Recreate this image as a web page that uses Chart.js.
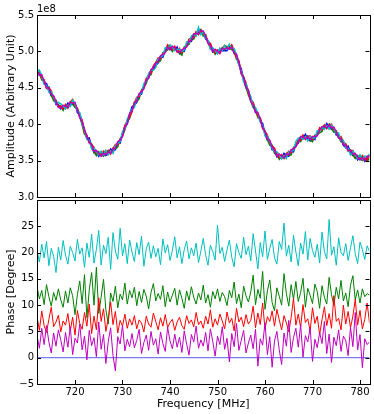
<!DOCTYPE html>
<html>
<head>
<meta charset="utf-8">
<script src="https://cdn.jsdelivr.net/npm/chart.js@4.4.1/dist/chart.umd.min.js"></script>
<style>
    html, body { margin: 0; padding: 0; background: #fff; }
    #wrap { position: relative; width: 374px; height: 414px; }
    #ampCanvas { position: absolute; left: 0; top: 0; }
    #phaseCanvas { position: absolute; left: 0; top: 190px; }
</style>
</head>
<body>
<div id="wrap">
    <canvas id="ampCanvas" width="374" height="206"></canvas>
    <canvas id="phaseCanvas" width="374" height="224"></canvas>
</div>
<script>
// Frequency grid (MHz), 0.5 MHz steps from 712 to 782
const freq = Array.from({ length: 141 }, (_, i) => 712 + i * 0.5);
const xTicks = [720, 730, 740, 750, 760, 770, 780];
const ampTicks = [3.0, 3.5, 4.0, 4.5, 5.0, 5.5];
const phaseTicks = [-5, 0, 5, 10, 15, 20, 25, 30];

// Amplitude (units of 1e8), one array per antenna
const ampBlue = [
    4.74, 4.67, 4.66, 4.56, 4.56, 4.47, 4.39, 4.38, 4.27, 4.27,
    4.21, 4.24, 4.22, 4.29, 4.27, 4.27, 4.29, 4.16, 4.13, 4.04,
    3.91, 3.80, 3.81, 3.69, 3.61, 3.63, 3.56, 3.60, 3.61, 3.57,
    3.59, 3.66, 3.63, 3.65, 3.75, 3.74, 3.87, 3.97, 4.00, 4.13,
    4.24, 4.26, 4.30, 4.41, 4.41, 4.53, 4.61, 4.63, 4.73, 4.75,
    4.81, 4.84, 4.93, 4.92, 5.02, 5.07, 5.02, 5.05, 5.02, 5.06,
    4.97, 5.01, 5.00, 5.10, 5.15, 5.14, 5.22, 5.22, 5.30, 5.26,
    5.27, 5.17, 5.15, 5.09, 4.99, 5.01, 4.97, 5.04, 5.01, 5.01,
    5.01, 5.07, 5.07, 4.97, 4.94, 4.82, 4.76, 4.61, 4.50, 4.46,
    4.35, 4.28, 4.16, 4.14, 4.04, 4.01, 3.87, 3.78, 3.77, 3.65,
    3.65, 3.55, 3.57, 3.53, 3.60, 3.56, 3.56, 3.64, 3.62, 3.73,
    3.74, 3.81, 3.80, 3.86, 3.80, 3.77, 3.82, 3.79, 3.88, 3.93,
    3.95, 3.94, 4.01, 3.96, 3.93, 3.95, 3.85, 3.85, 3.81, 3.71,
    3.68, 3.70, 3.61, 3.57, 3.59, 3.51, 3.55, 3.55, 3.49, 3.54,
    3.56
];
const ampGreen = [
    4.69, 4.71, 4.61, 4.60, 4.51, 4.51, 4.40, 4.32, 4.33, 4.25,
    4.25, 4.19, 4.26, 4.24, 4.31, 4.28, 4.23, 4.22, 4.11, 3.99,
    3.86, 3.84, 3.76, 3.73, 3.62, 3.57, 3.62, 3.58, 3.56, 3.61,
    3.63, 3.61, 3.67, 3.66, 3.69, 3.80, 3.85, 3.92, 4.04, 4.08,
    4.19, 4.30, 4.31, 4.35, 4.47, 4.51, 4.56, 4.67, 4.68, 4.79,
    4.85, 4.85, 4.87, 4.98, 5.00, 5.02, 5.06, 5.00, 5.06, 5.01,
    4.98, 4.95, 5.06, 5.08, 5.10, 5.18, 5.17, 5.26, 5.25, 5.30,
    5.21, 5.23, 5.13, 5.04, 5.03, 4.96, 5.01, 4.99, 5.05, 5.02,
    5.07, 5.05, 5.02, 5.01, 4.89, 4.86, 4.71, 4.65, 4.51, 4.40,
    4.33, 4.23, 4.20, 4.09, 4.08, 3.96, 3.91, 3.79, 3.71, 3.71,
    3.60, 3.59, 3.52, 3.57, 3.55, 3.60, 3.57, 3.58, 3.68, 3.71,
    3.78, 3.76, 3.84, 3.81, 3.84, 3.78, 3.76, 3.85, 3.86, 3.88,
    3.90, 3.98, 3.96, 4.00, 3.94, 3.89, 3.91, 3.83, 3.76, 3.75,
    3.72, 3.65, 3.65, 3.58, 3.53, 3.57, 3.53, 3.50, 3.53, 3.49,
    3.53
];
const ampRed = [
    4.76, 4.71, 4.63, 4.61, 4.49, 4.50, 4.46, 4.35, 4.32, 4.24,
    4.25, 4.21, 4.27, 4.22, 4.30, 4.34, 4.26, 4.21, 4.10, 4.06,
    3.88, 3.85, 3.74, 3.72, 3.68, 3.60, 3.61, 3.57, 3.63, 3.61,
    3.64, 3.59, 3.66, 3.72, 3.72, 3.79, 3.84, 3.99, 4.04, 4.10,
    4.17, 4.29, 4.37, 4.38, 4.46, 4.50, 4.63, 4.67, 4.70, 4.80,
    4.84, 4.91, 4.90, 4.97, 4.99, 5.09, 5.06, 5.02, 5.07, 4.99,
    5.04, 4.98, 5.05, 5.07, 5.17, 5.18, 5.19, 5.27, 5.23, 5.29,
    5.24, 5.22, 5.12, 5.11, 5.03, 4.98, 5.02, 4.97, 5.04, 5.08,
    5.06, 5.04, 5.09, 5.01, 4.91, 4.87, 4.69, 4.64, 4.57, 4.43,
    4.32, 4.30, 4.20, 4.11, 4.09, 3.94, 3.90, 3.85, 3.74, 3.70,
    3.67, 3.59, 3.54, 3.58, 3.53, 3.59, 3.63, 3.61, 3.67, 3.70,
    3.78, 3.78, 3.85, 3.79, 3.83, 3.84, 3.79, 3.84, 3.85, 3.95,
    3.92, 3.99, 3.94, 3.99, 4.00, 3.92, 3.90, 3.82, 3.83, 3.75,
    3.73, 3.63, 3.64, 3.64, 3.56, 3.56, 3.52, 3.57, 3.53, 3.51,
    3.58
];
const ampCyan = [
    4.71, 4.74, 4.67, 4.55, 4.53, 4.44, 4.45, 4.37, 4.29, 4.30,
    4.28, 4.25, 4.21, 4.26, 4.24, 4.33, 4.28, 4.18, 4.16, 4.01,
    3.92, 3.79, 3.78, 3.66, 3.67, 3.62, 3.58, 3.63, 3.58, 3.64,
    3.58, 3.63, 3.60, 3.71, 3.74, 3.76, 3.90, 3.94, 4.07, 4.14,
    4.21, 4.23, 4.36, 4.40, 4.43, 4.56, 4.58, 4.70, 4.74, 4.74,
    4.78, 4.90, 4.92, 4.94, 5.05, 5.04, 5.09, 5.06, 5.01, 5.03,
    5.03, 5.00, 5.02, 5.13, 5.12, 5.21, 5.23, 5.21, 5.33, 5.23,
    5.27, 5.18, 5.15, 5.03, 5.05, 5.01, 4.97, 5.04, 5.01, 5.08,
    5.03, 5.10, 5.04, 5.04, 4.95, 4.81, 4.73, 4.58, 4.56, 4.45,
    4.38, 4.25, 4.23, 4.15, 4.03, 3.98, 3.84, 3.84, 3.76, 3.67,
    3.62, 3.62, 3.58, 3.52, 3.57, 3.53, 3.62, 3.63, 3.64, 3.76,
    3.81, 3.82, 3.79, 3.83, 3.77, 3.83, 3.81, 3.81, 3.91, 3.90,
    3.96, 3.93, 3.98, 3.93, 3.99, 3.94, 3.87, 3.88, 3.78, 3.78,
    3.67, 3.67, 3.58, 3.63, 3.58, 3.53, 3.58, 3.52, 3.56, 3.55,
    3.59
];
const ampMagenta = [
    4.73, 4.68, 4.68, 4.59, 4.50, 4.50, 4.41, 4.39, 4.31, 4.23,
    4.22, 4.26, 4.25, 4.23, 4.30, 4.29, 4.30, 4.20, 4.09, 4.03,
    3.93, 3.83, 3.75, 3.72, 3.63, 3.64, 3.60, 3.56, 3.60, 3.58,
    3.62, 3.60, 3.66, 3.67, 3.76, 3.78, 3.83, 3.96, 4.01, 4.15,
    4.18, 4.29, 4.32, 4.42, 4.45, 4.49, 4.60, 4.64, 4.75, 4.78,
    4.84, 4.86, 4.94, 4.96, 4.98, 5.06, 5.03, 5.07, 5.05, 5.00,
    4.99, 5.02, 5.04, 5.06, 5.14, 5.15, 5.24, 5.25, 5.24, 5.29,
    5.28, 5.21, 5.11, 5.08, 5.00, 5.03, 5.00, 4.98, 5.04, 5.03,
    5.05, 5.03, 5.06, 4.98, 4.96, 4.85, 4.70, 4.64, 4.52, 4.47,
    4.31, 4.27, 4.17, 4.16, 4.07, 3.95, 3.90, 3.80, 3.78, 3.69,
    3.64, 3.56, 3.59, 3.56, 3.54, 3.59, 3.58, 3.65, 3.66, 3.69,
    3.75, 3.83, 3.83, 3.80, 3.83, 3.79, 3.83, 3.83, 3.84, 3.92,
    3.97, 3.97, 3.95, 3.99, 3.95, 3.96, 3.89, 3.81, 3.80, 3.72,
    3.71, 3.64, 3.64, 3.59, 3.60, 3.55, 3.51, 3.54, 3.50, 3.56,
    3.56
];

// Phase (degrees), one array per antenna; blue is the reference at 0
const phaseBlueX = [712, 782];
const phaseBlue = [0, 0];
const phaseGreen = [
    13.5, 11.2, 12.8, 10.1, 13.9, 11.6, 9.8, 12.4, 10.9, 13.1,
    11.0, 9.6, 12.7, 10.4, 13.3, 11.8, 8.2, 12.0, 14.6, 10.3,
    15.8, 7.6, 12.9, 16.2, 10.0, 17.2, 8.4, 11.5, 14.9, 9.1,
    6.4, 12.3, 10.7, 13.6, 9.5, 12.1, 11.0, 14.2, 10.2, 12.8,
    11.4, 13.4, 9.9, 12.6, 10.5, 13.0, 11.7, 9.3, 12.4, 14.1,
    10.8, 12.2, 11.1, 13.7, 9.7, 12.5, 10.6, 11.9, 13.2, 10.0,
    12.9, 11.3, 9.4, 12.7, 10.9, 13.5, 11.5, 10.2, 12.3, 11.0,
    13.8, 10.4, 12.0, 9.6, 12.6, 11.2, 13.1, 10.7, 12.4, 11.6,
    9.9, 12.8, 11.4, 14.4, 10.3, 12.1, 9.5, 13.6, 11.8, 10.6,
    12.5, 15.7, 10.1, 13.0, 11.3, 16.4, 9.2, 12.7, 14.8, 10.5,
    8.9, 13.3, 11.7, 10.0, 16.0, 12.2, 9.8, 13.9, 11.1, 14.5,
    10.7, 12.4, 15.1, 9.6, 13.2, 11.9, 10.3, 14.0, 12.6, 9.4,
    13.7, 11.5, 10.2, 15.3, 12.0, 9.9, 13.4, 11.2, 14.7, 10.8,
    12.3, 9.7, 13.8, 15.6, 11.0, 12.9, 10.4, 13.1, 11.6, 12.2,
    11.9
];
const phaseRed = [
    7.8, 5.2, 8.9, 6.1, 4.8, 7.3, 9.6, 5.9, 6.8, 8.1,
    4.9, 7.0, 6.2, 8.4, 5.1, 7.7, 4.3, 9.0, 6.5, 5.4,
    8.6, 6.0, 10.2, 4.6, 7.9, 5.3, 11.4, 6.9, 9.3, 5.0,
    7.5, 10.6, 6.3, 8.8, 4.7, 7.1, 6.0, 8.3, 5.6, 7.4,
    6.2, 8.0, 5.5, 7.2, 6.6, 4.9, 7.9, 6.4, 5.8, 8.5,
    6.9, 5.3, 7.6, 6.0, 8.2, 5.7, 6.7, 7.3, 5.2, 6.8,
    7.7, 6.1, 5.4, 8.0, 6.5, 7.2, 5.9, 8.6, 6.3, 7.0,
    5.6, 7.9, 6.4, 9.1, 5.8, 7.4, 6.2, 8.3, 7.0, 5.5,
    8.7, 6.6, 7.5, 5.1, 9.4, 6.8, 7.7, 5.9, 8.2, 6.4,
    7.1, 9.8, 5.7, 8.5, 6.3, 10.4, 5.4, 7.8, 6.9, 8.9,
    6.0, 9.2, 7.2, 5.3, 8.0, 6.6, 4.9, 7.6, 11.3, 6.2,
    8.3, 5.8, 10.1, 6.7, 7.4, 5.1, 9.5, 6.5, 7.9, 4.4,
    7.2, 9.7, 6.1, 8.4, 5.6, 11.8, 6.9, 7.5, 5.3, 10.0,
    6.4, 8.8, 5.7, 7.9, 11.1, 6.2, 9.0, 5.5, 7.3, 10.4,
    6.6
];
const phaseCyan = [
    20.5, 18.2, 21.6, 19.0, 22.1, 17.5, 20.8, 19.3, 16.2, 21.0,
    18.6, 22.3, 19.5, 17.8, 21.2, 20.0, 18.4, 22.5, 19.7, 20.9,
    17.2, 21.8, 19.1, 23.5, 18.0, 20.6, 24.2, 17.6, 21.4, 19.8,
    22.9, 16.8, 23.8, 20.3, 18.7, 24.6, 19.4, 21.7, 17.9, 22.4,
    20.1, 18.3, 21.9, 19.6, 23.1, 17.4, 20.7, 22.0, 18.9, 21.3,
    19.2, 20.8, 17.7, 22.6, 19.9, 21.5, 18.5, 20.4, 23.0, 19.0,
    21.1, 17.9, 20.6, 22.2, 18.8, 20.9, 19.4, 21.8, 18.1, 20.3,
    22.7, 19.5, 17.6, 21.4, 20.2, 18.6, 25.2, 19.8, 21.0, 18.3,
    20.5, 22.4, 19.1, 17.3, 21.7, 20.0, 18.9, 22.9, 19.6, 21.2,
    18.4, 23.6, 20.3, 16.9, 21.9, 19.2, 24.1, 18.7, 20.8, 22.5,
    19.0, 17.8, 22.1, 20.6, 25.6, 19.3, 21.4, 18.2, 23.3, 20.1,
    17.5, 21.8, 19.7, 24.0, 18.6, 22.7, 20.4, 19.1, 21.6, 18.0,
    23.9, 20.2, 18.8, 26.3, 19.5, 21.1, 17.6, 22.8, 20.0, 19.4,
    21.7, 18.5, 20.9, 23.2, 19.8, 17.9, 22.0, 20.6, 18.7, 21.3,
    20.2
];
const phaseMagenta = [
    4.2, 1.8, 5.6, 2.5, 6.1, 3.0, 0.9, 4.7, 2.2, 5.3,
    3.4, 1.1, 4.8, 2.0, 5.9, 0.6, 3.7, 2.8, 6.4, 1.5,
    4.1, -0.4, 5.2, 2.3, 3.8, 0.2, 6.8, 1.6, 4.4, -1.1,
    3.1, 5.7, 0.4, -2.5, 4.0, 2.6, 6.2, 1.3, 3.5, 2.1,
    4.6, 1.9, 3.3, 5.4, 0.8, 2.9, 4.3, 1.4, 5.0, 2.4,
    3.6, 0.7, 4.9, 2.7, 1.2, 5.8, 3.2, 1.7, 4.5, 2.0,
    3.9, 1.0, 5.1, 2.6, 0.5, 4.4, 3.0, 6.0, 1.8, 3.4,
    2.2, 4.8, 1.3, 5.5, 3.1, 0.3, 4.1, 2.5, 5.9, 1.6,
    3.7, -0.8, 4.6, 2.1, 6.5, 1.4, 3.3, 5.2, 0.9, 2.8,
    4.3, 1.7, 5.4, -1.6, 3.6, 2.4, 6.7, 0.6, 4.0, -1.8,
    3.2, 5.0, 1.5, -1.3, 4.7, 2.2, 7.1, 1.0, 3.8, 5.6,
    2.0, 6.3, 0.1, 4.2, 3.0, 5.7, -0.7, 3.5, 1.9, 4.8,
    2.7, 6.9, 0.8, 4.5, -0.9, 3.9, 2.3, 5.3, 1.2, 4.1,
    3.3, 0.4, 5.8, 2.1, 8.6, 1.5, 4.4, -1.9, 3.6, 2.5,
    3.0
];

const COLORS = { b: '#0000ff', g: '#008000', r: '#ff0000', c: '#00bfbf', m: '#bf00bf' };
const TITLE_FONT = { family: 'DejaVu Sans', size: 11 };

Chart.defaults.font.family = 'DejaVu Sans';
Chart.defaults.font.size = 10;
Chart.defaults.color = '#000';

function pts(xs, ys) {
    return ys.map((y, i) => ({ x: xs[i], y: y }));
}

function line(color, xs, ys, width) {
    return {
        data: pts(xs, ys),
        borderColor: color,
        borderWidth: width,
        pointRadius: 0,
        fill: false,
        tension: 0,
    };
}

// matplotlib-like frame with inward ticks on all four sides
const framePlugin = {
    id: 'frame',
    afterDraw(chart, args, opts) {
        const { ctx, chartArea: a, scales } = chart;
        ctx.save();
        ctx.strokeStyle = '#000';
        ctx.lineWidth = 1;
        ctx.beginPath();
        scales.x.ticks.forEach(t => {
            const px = Math.round(scales.x.getPixelForValue(t.value)) + 0.5;
            ctx.moveTo(px, a.bottom); ctx.lineTo(px, a.bottom - 4);
            ctx.moveTo(px, a.top); ctx.lineTo(px, a.top + 4);
        });
        scales.y.ticks.forEach(t => {
            const py = Math.round(scales.y.getPixelForValue(t.value)) + 0.5;
            ctx.moveTo(a.left, py); ctx.lineTo(a.left + 4, py);
            ctx.moveTo(a.right, py); ctx.lineTo(a.right - 4, py);
        });
        ctx.stroke();
        ctx.strokeRect(Math.round(a.left) + 0.5, Math.round(a.top) + 0.5,
            Math.round(a.right - a.left), Math.round(a.bottom - a.top));
        if (opts.offsetText) {
            ctx.fillStyle = '#000';
            ctx.font = '10px "DejaVu Sans"';
            ctx.textAlign = 'left';
            ctx.textBaseline = 'bottom';
            ctx.fillText(opts.offsetText, a.left, a.top - 1);
        }
        ctx.restore();
    }
};

function xScale(showLabels) {
    return {
        type: 'linear',
        min: 712,
        max: 782,
        afterBuildTicks: s => { s.ticks = xTicks.map(v => ({ value: v })); },
        grid: { display: false, drawTicks: false },
        border: { display: false },
        ticks: { display: showLabels, padding: 2, maxRotation: 0, callback: v => String(v) },
        title: { display: showLabels, text: 'Frequency [MHz]', font: TITLE_FONT, padding: { top: 0, bottom: 3 } },
        afterFit: s => { s.height = showLabels ? 30 : 8; },
    };
}

function yScale(min, max, ticks, label, fmt) {
    return {
        min: min,
        max: max,
        afterBuildTicks: s => { s.ticks = ticks.map(v => ({ value: v })); },
        grid: { display: false, drawTicks: false },
        border: { display: false },
        ticks: { padding: 3, callback: fmt },
        title: { display: true, text: label, font: TITLE_FONT, padding: { top: 5, bottom: 0 } },
        afterFit: s => { s.width = 37; },
    };
}

new Chart(document.getElementById('ampCanvas'), {
    type: 'line',
    data: {
        datasets: [
            line(COLORS.m, freq, ampMagenta, 1.5),
            line(COLORS.c, freq, ampCyan, 1.5),
            line(COLORS.r, freq, ampRed, 1.5),
            line(COLORS.g, freq, ampGreen, 1.5),
            line(COLORS.b, freq, ampBlue, 1.5),
        ],
    },
    options: {
        responsive: false,
        animation: false,
        events: [],
        layout: { padding: { top: 15, right: 4.5, left: 0, bottom: 0 } },
        plugins: { legend: { display: false }, tooltip: { enabled: false }, frame: { offsetText: '1e8' } },
        scales: {
            x: xScale(false),
            y: yScale(3.0, 5.5, ampTicks, 'Amplitude (Arbitrary Unit)', v => v.toFixed(1)),
        },
    },
    plugins: [framePlugin],
});

new Chart(document.getElementById('phaseCanvas'), {
    type: 'line',
    data: {
        datasets: [
            line(COLORS.m, freq, phaseMagenta, 1),
            line(COLORS.c, freq, phaseCyan, 1),
            line(COLORS.r, freq, phaseRed, 1),
            line(COLORS.g, freq, phaseGreen, 1),
            line('#5a5af0', phaseBlueX, phaseBlue, 1),
        ],
    },
    options: {
        responsive: false,
        animation: false,
        events: [],
        layout: { padding: { top: 10, right: 4.5, left: 0, bottom: 0 } },
        plugins: { legend: { display: false }, tooltip: { enabled: false }, frame: {} },
        scales: {
            x: xScale(true),
            y: yScale(-5, 30, phaseTicks, 'Phase [Degree]',
                v => v === 30 ? '' : String(v).replace('-', '\u2212')),
        },
    },
    plugins: [framePlugin],
});
</script>
</body>
</html>
